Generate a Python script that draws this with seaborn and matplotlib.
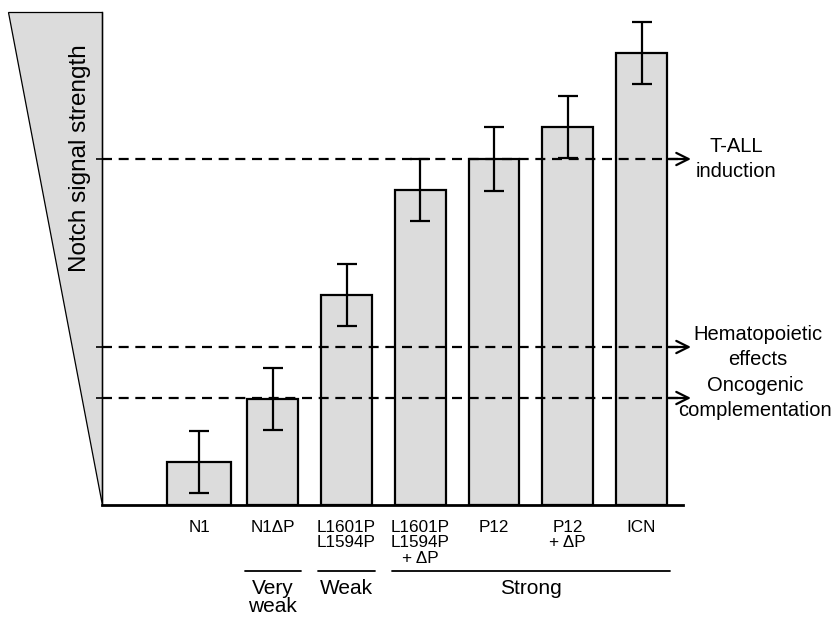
import matplotlib
matplotlib.use('Agg')
import matplotlib.pyplot as plt
import seaborn as sns
import pandas as pd
from matplotlib.patches import Polygon
from matplotlib.lines import Line2D

categories = ['N1', 'N1ΔP', 'L1601P\nL1594P', 'L1601P\nL1594P\n+ ΔP', 'P12', 'P12\n+ ΔP', 'ICN']
values = [43, 106, 210, 315, 346, 378, 452]
errors = [31, 31, 31, 31, 32, 31, 31]
thresholds = [346, 158, 107]
threshold_labels = ['T-ALL\ninduction', 'Hematopoietic\neffects', 'Oncogenic\ncomplementation']
groups = ['Very\nweak', 'Weak', 'Strong']
group_first = [1, 2, 3]
group_last = [1, 2, 6]
axis_label = 'Notch signal strength'

sns.set_style('white')
plt.rcParams['font.family'] = ['Liberation Sans', 'DejaVu Sans']
plt.rcParams['text.color'] = 'black'
plt.rcParams['xtick.color'] = 'black'
plt.rcParams['ytick.color'] = 'black'
plt.rcParams['xtick.labelcolor'] = 'black'

W, H = 836, 619
fig = plt.figure(figsize=(W / 100, H / 100), dpi=100)
ax_left, ax_right, ax_bottom, ax_top = 102, 683, 505, 12
ax = fig.add_axes([ax_left / W, 1 - ax_bottom / H, (ax_right - ax_left) / W, (ax_bottom - ax_top) / H])

df = pd.DataFrame({'cat': categories, 'val': values})
sns.barplot(data=df, x='cat', y='val', color='#dcdcdc', edgecolor='black',
            linewidth=1.6, width=0.69, errorbar=None, ax=ax, saturation=1)
# first bar is wider in reference
p0 = ax.patches[0]
p0.set_width(0.87)
p0.set_x(-0.435)
for p in ax.patches:
    p.set_facecolor('#dcdcdc')

ax.errorbar(x=range(len(values)), y=values, yerr=errors, fmt='none', ecolor='black',
            elinewidth=1.6, capsize=7.5, capthick=1.6, zorder=5)

spacing = 73.75
x0 = -(199 - ax_left) / spacing
x1 = (ax_right - 199) / spacing
ax.set_xlim(x0, x1)
ax.set_ylim(0, ax_bottom - ax_top)

# spines
for s in ['top', 'right']:
    ax.spines[s].set_visible(False)
ax.spines['bottom'].set_linewidth(2)
ax.spines['left'].set_linewidth(1.0)
ax.spines['left'].set_color('black')
ax.spines['bottom'].set_color('black')

ax.set_yticks(thresholds)
ax.set_yticklabels([])
ax.tick_params(axis='y', left=True, length=4, width=1.2, color='black')
ax.set_xticks(range(len(categories)))
ax.set_xticklabels(categories, fontsize=12.3, linespacing=1.05, va='top', color='black')
ax.tick_params(axis='x', bottom=False, pad=7)
ax.set_xlabel('')
ax.set_ylabel('')

# triangle
tri = Polygon([((8 - ax_left) / (ax_right - ax_left), 1), (0, 1), (0, 0)],
              closed=True, transform=ax.transAxes, clip_on=False,
              facecolor='#dcdcdc', edgecolor='black', linewidth=0.9, zorder=0)
ax.add_patch(tri)
fig.text(80 / W, 1 - 158 / H, axis_label, rotation=90, ha='center', va='center', fontsize=17.5,
         color='black')

# threshold lines
label_x = [736, 758, 755]
for t, lab, lx in zip(thresholds, threshold_labels, label_x):
    ax.axhline(t, xmin=0, xmax=(678 - ax_left) / (ax_right - ax_left), color='black',
               ls=(0, (4.5, 3)), lw=1.6, zorder=6)
    ax.annotate('', xy=((691 - ax_left) / (ax_right - ax_left), t),
                xytext=((668 - ax_left) / (ax_right - ax_left), t),
                xycoords=('axes fraction', 'data'), textcoords=('axes fraction', 'data'),
                arrowprops=dict(arrowstyle='->', lw=1.6, color='black', mutation_scale=22,
                                shrinkA=0, shrinkB=0), annotation_clip=False)
    ax.annotate(lab, xy=((lx - ax_left) / (ax_right - ax_left), t),
                xycoords=('axes fraction', 'data'), ha='center', va='center',
                fontsize=14.5, linespacing=1.35, annotation_clip=False, color='black')

# group lines and labels
trans = ax.get_xaxis_transform()
for g, a, b in zip(groups, group_first, group_last):
    xa, xb = a - 0.38, b + 0.38
    ly = -(571 - ax_bottom) / (ax_bottom - ax_top)
    ax.add_line(Line2D([xa, xb], [ly, ly], transform=trans, color='black', lw=1.3, clip_on=False))
    ty = -(579 - ax_bottom) / (ax_bottom - ax_top)
    ax.text((xa + xb) / 2, ty, g, transform=trans, ha='center', va='top', fontsize=15,
            linespacing=0.95, clip_on=False, color='black')

fig.savefig('out.png', dpi=100)
